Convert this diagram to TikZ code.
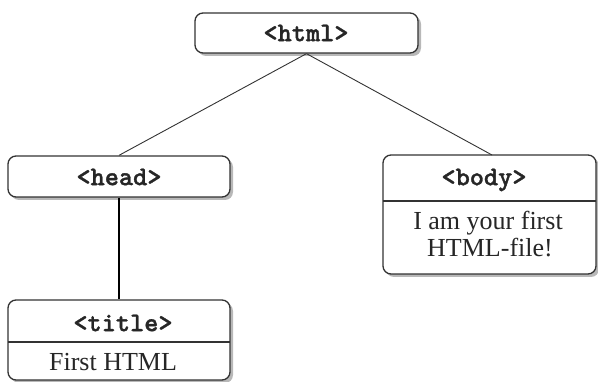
\documentclass[tikz,border=0pt]{standalone}
\usepackage{fontspec}
\setmainfont{Liberation Serif}
\newfontfamily\tagfont{lmmonolt10-bold.otf}[FakeBold=1.2]
\usetikzlibrary{shadows}
\tikzset{
  box/.style={draw=black!80, line width=1.3pt, rounded corners=8pt, fill=white,
    inner sep=0pt, drop shadow={shadow xshift=3pt, shadow yshift=-3pt, fill=black!35, opacity=0.8}},
  tag/.style={font=\tagfont\fontsize{27}{30}\selectfont, text=black!85, inner sep=0pt},
  txt/.style={font=\fontsize{26}{30}\selectfont, text=black!85, inner sep=0pt, align=center},
  conn/.style={draw=black!80, line width=0.9pt},
  divider/.style={draw=black!80, line width=1.1pt},
}
\begin{document}
\begin{tikzpicture}[x=1pt,y=-1pt]
\useasboundingbox (0,0) rectangle (598,382);
\coordinate (bodyt) at (492,155);
% boxes
\node[box, minimum width=223pt, minimum height=40pt] (html) at (306.5,33) {};
\node[box, minimum width=222pt, minimum height=41pt] (head) at (119,176.5) {};
\node[box, minimum width=213pt, minimum height=119pt] (body) at (489.5,214.5) {};
\node[box, minimum width=222pt, minimum height=80pt] (title) at (119,340) {};
\draw[conn] (html.south) -- (head.north);
\draw[conn] (html.south) -- (bodyt);
\draw[draw=black, line width=1.8pt] (head.south) -- (title.north);
% dividers
\coordinate (bdl) at (383,201);
\coordinate (bdr) at (596,201);
\draw[divider] (bdl) -- (bdr);
\coordinate (tdl) at (8,342);
\coordinate (tdr) at (230,342);
\draw[divider] (tdl) -- (tdr);
% texts
\node[tag] (thtml) at (306,33) {<html>};
\node[tag] (thead) at (119,177) {<head>};
\node[tag] (tbody) at (484,180) {<body>};
\node[txt] (tbody1) at (488,223) {I am your first};
\node[txt] (tbody2) at (490,248) {HTML-file!};
\node[tag] (ttitle) at (123,323) {<title>};
\node[txt] (ttitle1) at (113,362) {First HTML};
\end{tikzpicture}
\end{document}
